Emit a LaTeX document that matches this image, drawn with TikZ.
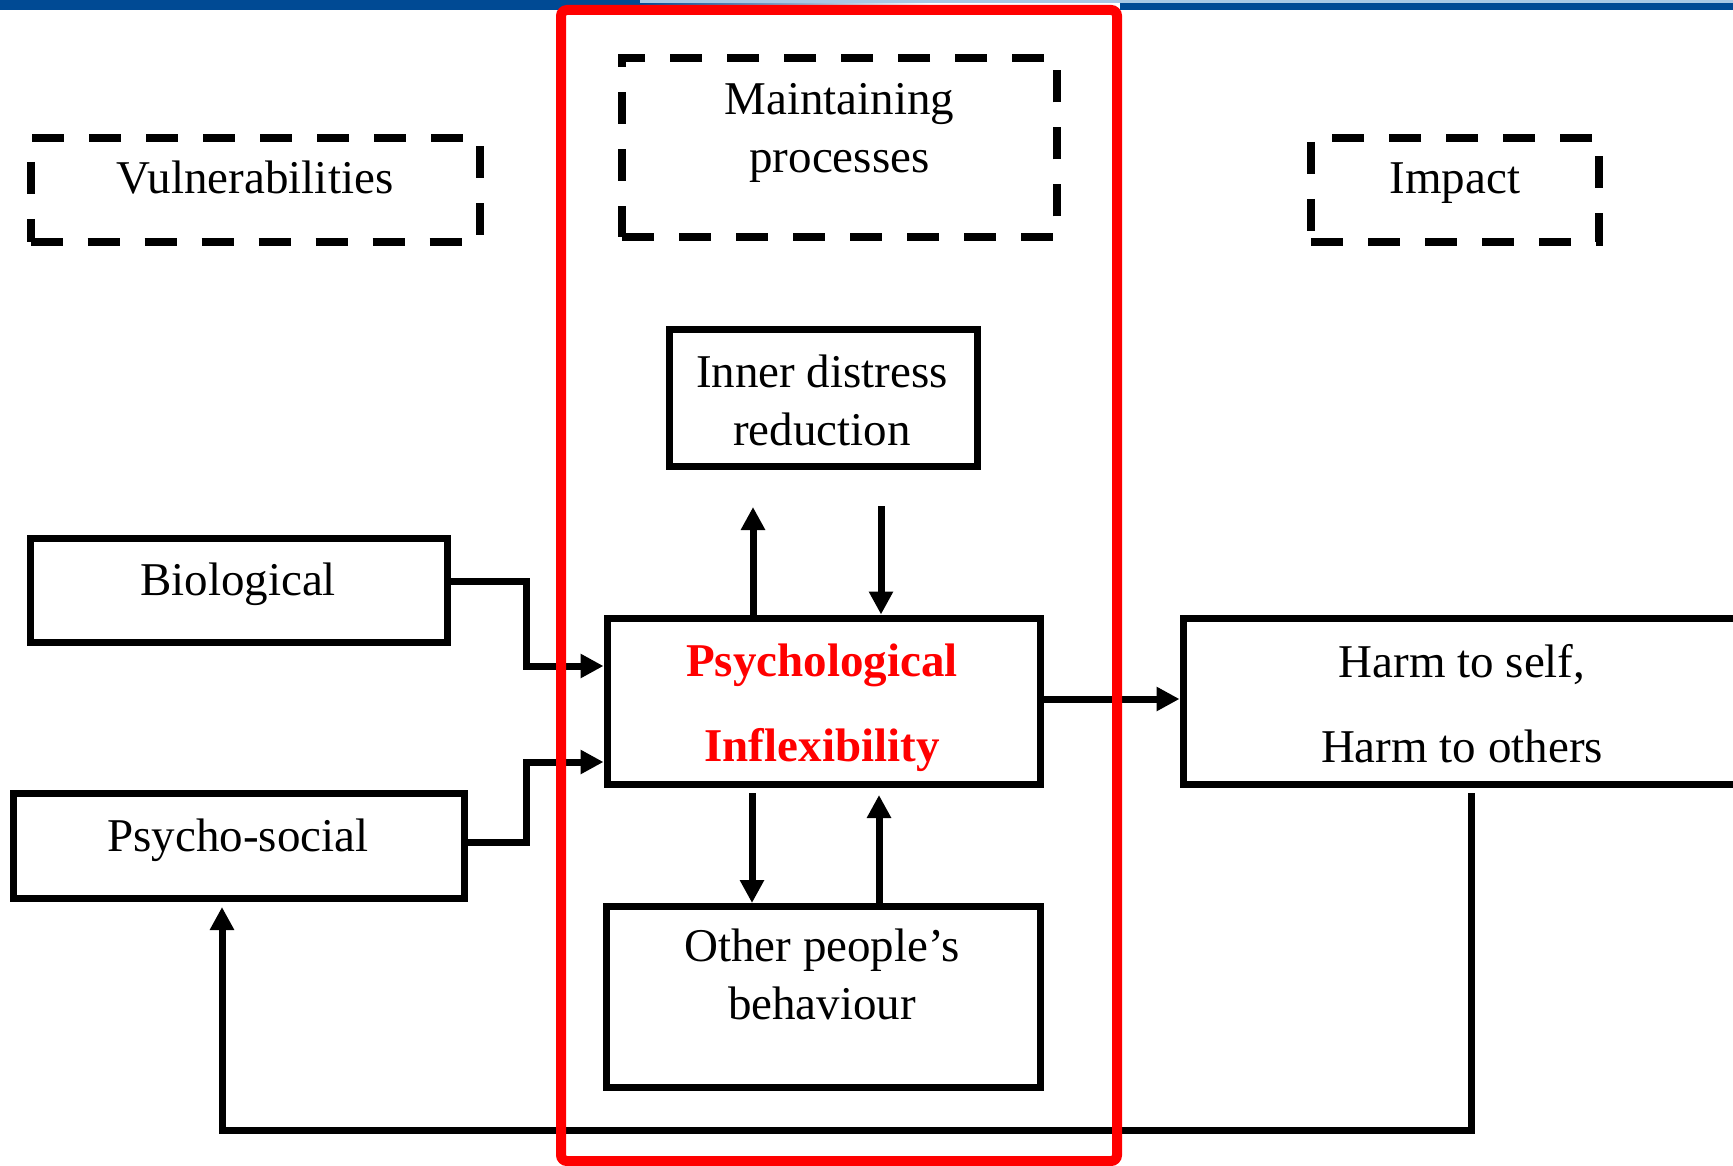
\documentclass[tikz,border=0pt]{standalone}
\usepackage{fontspec}
\setmainfont{Liberation Serif}
\usetikzlibrary{arrows.meta}
\definecolor{bandblue}{HTML}{004A94}
\definecolor{bandlight}{HTML}{A8C8E4}
\definecolor{framered}{HTML}{FF0000}
% two centred lines, aligned on the baseline of the first one
\newcommand\twolines[3][0pt]{\begin{tabular}[t]{@{}c@{}}#2\\[#1]#3\end{tabular}}
\begin{document}
\begin{tikzpicture}[x=0.5pt,y=-0.5pt,
  box/.style={draw, line width=3.5pt, rectangle, inner sep=0pt},
  dbox/.style={draw, line width=4pt, dash pattern=on 16pt off 12.5pt, rectangle, inner sep=0pt},
  txt/.style={font=\fontsize{23.5}{29}\selectfont, inner sep=0pt, anchor=base},
  keytxt/.style={txt, text=framered, font=\fontsize{23.5}{29}\selectfont\bfseries},
  link/.style={line width=3.5pt},
  arr/.style={link, -{Triangle[width=11.5pt,length=11.5pt]}}
]
\useasboundingbox (0,0) rectangle (1733,1166);
\clip (0,0) rectangle (1733,1166);

% header band
\fill[bandblue] (0,0) rectangle (645,10);
\shade[left color=bandblue, right color=white] (640,0) rectangle (930,10);
\fill[bandlight] (640,0) rectangle (1733,3);
\fill[bandblue] (1120,3) rectangle (1733,10);

% column headings
\node[dbox, minimum width=224.5pt, minimum height=52pt] (vuln) at (255,190) {};
\node[dbox, minimum width=217.5pt, minimum height=89.5pt] (maint) at (839.5,148) {};
\node[dbox, minimum width=144pt, minimum height=52pt] (impact) at (1455,190) {};
\node[txt] (vulnT) at (255,194) {Vulnerabilities};
\node[txt] (maintT) at (839.5,115) {\twolines{Maintaining}{processes}};
\node[txt] (impactT) at (1455,194) {Impact};

% boxes
\node[box, minimum width=154pt, minimum height=68.5pt] (inner) at (823,397.5) {};
\node[box, minimum width=208.5pt, minimum height=52pt] (bio) at (238.5,590) {};
\node[box, minimum width=225.5pt, minimum height=52.5pt] (psycho) at (238.5,846) {};
\node[box, minimum width=216.5pt, minimum height=83pt] (pi) at (823.5,701) {};
\node[box, minimum width=217pt, minimum height=90.5pt] (other) at (823,997) {};
\node[box, minimum width=288.5pt, minimum height=83pt] (harm) at (1471.5,701) {};

\node[txt] (innerT) at (822,387) {\twolines{Inner distress}{reduction}};
\node[txt] (bioT) at (238,595) {Biological};
\node[txt] (psychoT) at (238,851) {Psycho-social};
\node[keytxt] (piT) at (822,676) {\twolines[13.5pt]{Psychological}{Inflexibility}};
\node[txt] (harmT) at (1462,677) {\twolines[13.5pt]{Harm to self,}{Harm to others}};
\node[txt] (otherT) at (822,961.5) {\twolines{Other people’s}{behaviour}};

% connectors between the maintaining processes
\coordinate (u1) at (753,507);
\coordinate (d1) at (881,506);
\coordinate (d2) at (752,793);
\coordinate (u2) at (879,795);
\draw[arr] (pi.north -| u1) -- (u1);
\draw[arr] (d1) -- (pi.north -| d1);
\draw[arr] (d2) -- (other.north -| d2);
\draw[arr] (other.north -| u2) -- (u2);

% vulnerabilities feeding in
\coordinate (bj) at (526,666);
\coordinate (pj) at (526,762);
\draw[arr] (bio.east |- 0,581) -| (bj) -- (pi.west |- bj);
\draw[arr] (psycho.east |- 0,842) -| (pj) -- (pi.west |- pj);

% impact and feedback loop
\draw[arr] (pi.east |- 0,699) -- (harm.west |- 0,699);
\coordinate (fbs) at (1471,793);
\coordinate (fbe) at (222,907);
\draw[arr] (fbs) -- (fbs |- 0,1130) -| (fbe);

% frame around the maintaining processes
\draw[framered, line width=5pt, rounded corners=3pt] (561,10) rectangle (1117,1161);
\end{tikzpicture}
\end{document}
